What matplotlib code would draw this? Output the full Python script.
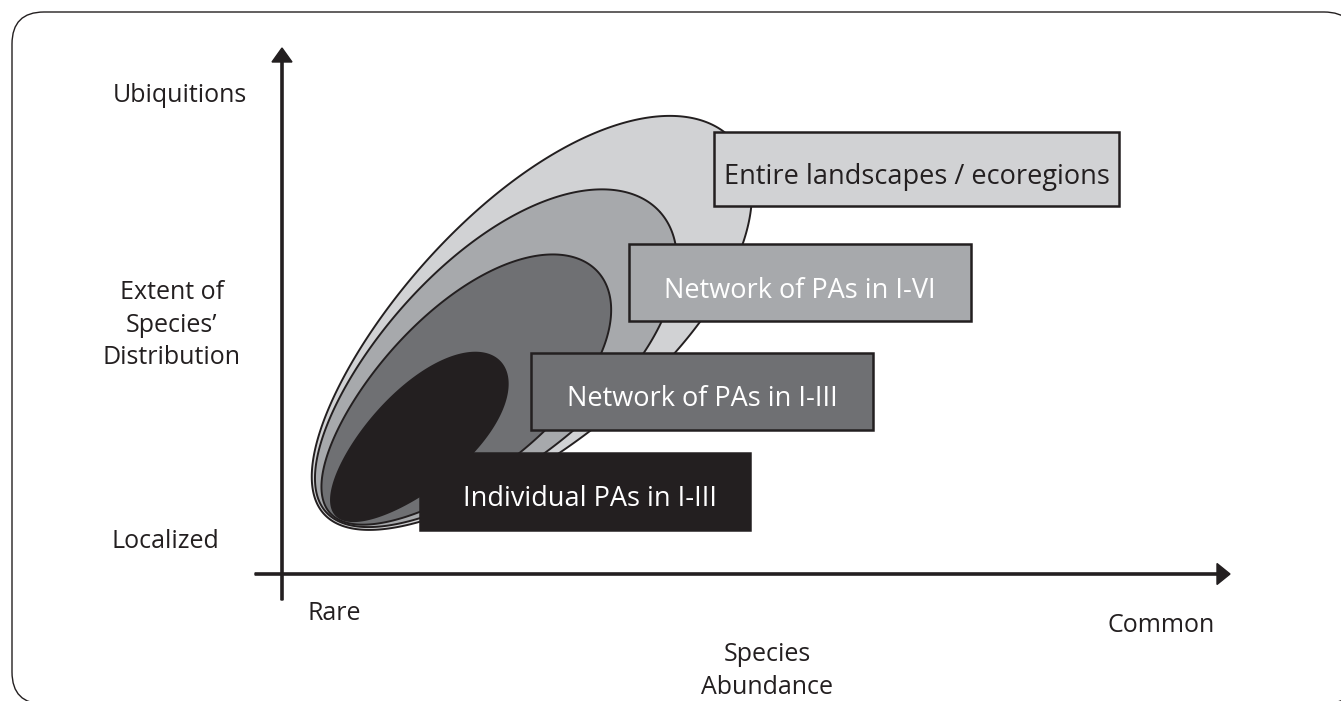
import numpy as np
import matplotlib
matplotlib.use("Agg")
import matplotlib.pyplot as plt
from matplotlib.patches import Polygon, Rectangle, FancyBboxPatch, FancyArrow

plt.rcParams['font.family'] = ['Open Sans', 'DejaVu Sans']

# ---- data ----
levels = ["Entire landscapes / ecoregions", "Network of PAs in I-VI",
          "Network of PAs in I-III", "Individual PAs in I-III"]
fill_colors = ["#d1d2d4", "#a7a9ac", "#6f7073", "#231f20"]
label_colors = ["#231f20", "#ffffff", "#ffffff", "#ffffff"]
y_labels = ["Ubiquitions", "Extent of\nSpecies\u2019\nDistribution", "Localized"]
x_labels = ["Rare", "Common"]
x_title = "Species\nAbundance"

INK = "#231f20"
W, H = 1341, 701
fig = plt.figure(figsize=(W / 100, H / 100), dpi=100)
ax = fig.add_axes([0, 0, 1, 1])
ax.set_xlim(0, W)
ax.set_ylim(H, 0)
ax.axis("off")

# frame
ax.add_patch(FancyBboxPatch((12, 12), 1344, 692, boxstyle="round,pad=0,rounding_size=32",
                            fc="white", ec=INK, lw=1.0, zorder=0))

# egg shapes (anchor lower-left, far end upper-right, half width, bluntness)
shapes = [((324, 514), (733, 140), 120, 0.12),
          ((326, 512), (660, 212), 104, 0.12),
          ((330, 513), (598, 272), 82, 0.12),
          ((336, 515), (500, 362), 48, 0.12)]

def egg(A, F, b, e, n=400):
    A = np.array(A, float); F = np.array(F, float)
    d = F - A
    L = np.hypot(*d)
    u = d / L
    nv = np.array([u[1], -u[0]])
    C = (A + F) / 2
    t = np.linspace(0, 2 * np.pi, n)
    xl = L / 2 * np.cos(t)
    yl = b * np.sin(t) * (1 + e * np.cos(t))
    return C[None, :] + xl[:, None] * u[None, :] + yl[:, None] * nv[None, :]

for i, (A, F, b, e) in enumerate(shapes):
    ax.add_patch(Polygon(egg(A, F, b, e), closed=True, fc=fill_colors[i], ec=INK,
                         lw=1.4, zorder=2 + i))

# boxes
boxes = [(714, 132, 405, 74), (629, 244, 342, 77), (531, 353, 342, 77), (420, 453, 330, 77)]
for i, (x0, y0, w, h) in enumerate(boxes):
    ec = INK if i < 3 else fill_colors[i]
    ax.add_patch(Rectangle((x0, y0), w, h, fc=fill_colors[i], ec=ec, lw=1.8, zorder=10))
    cx = x0 + w / 2 if i < 3 else 590
    ax.text(cx, y0 + h / 2 + 15, levels[i], ha="center", va="baseline", fontsize=19.5,
            color=label_colors[i], zorder=11)

# axes arrows
ax.add_patch(FancyArrow(282, 600, 0, -552, width=2.2, head_width=20, head_length=14,
                        length_includes_head=True, fc=INK, ec=INK, zorder=5))
ax.add_patch(FancyArrow(255, 574, 975, 0, width=2.2, head_width=21, head_length=13,
                        length_includes_head=True, fc=INK, ec=INK, zorder=5))

# axis labels
ax.text(180, 96, y_labels[0], ha="center", va="center", fontsize=18, color=INK)
ax.text(172, 325, y_labels[1], ha="center", va="center", fontsize=18, color=INK,
        linespacing=1.4)
ax.text(165, 541, y_labels[2], ha="center", va="center", fontsize=18, color=INK)
ax.text(334, 613, x_labels[0], ha="center", va="center", fontsize=18, color=INK)
ax.text(1161, 626, x_labels[1], ha="center", va="center", fontsize=18, color=INK)
ax.text(767, 671, x_title, ha="center", va="center", fontsize=18, color=INK,
        linespacing=1.4)

fig.savefig("out.png", dpi=100)
